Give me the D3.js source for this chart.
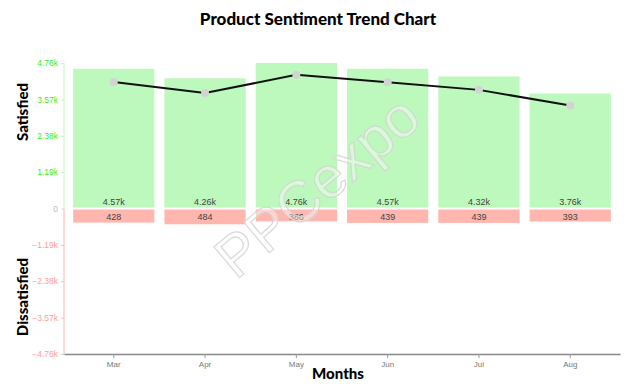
<!DOCTYPE html>
<html>
<head>
<meta charset="utf-8">
<script src="https://cdn.jsdelivr.net/npm/d3@7"></script>
<style>
  body { margin: 0; background: #fff; }
  svg { display: block; }
</style>
</head>
<body>
<svg id="chart"></svg>
<script>
// data
var months = ["Mar", "Apr", "May", "Jun", "Jul", "Aug"];
var satisfied = [4570, 4260, 4760, 4570, 4320, 3760];
var dissatisfied = [428, 484, 386, 439, 439, 393];
var netSentiment = [4142, 3776, 4374, 4131, 3881, 3367];
var yTicks = [-4760, -3570, -2380, -1190, 0, 1190, 2380, 3570, 4760];

var width = 636, height = 391;
var margin = {top: 63, right: 16, bottom: 37, left: 64};

var svg = d3.select("#chart")
    .attr("width", width)
    .attr("height", height);

var x = d3.scaleBand()
    .domain(months)
    .range([margin.left, width - margin.right])
    .paddingInner(0.11)
    .paddingOuter(0.1);

var y = d3.scaleLinear()
    .domain([-4760, 4760])
    .range([height - margin.bottom, margin.top]);

var fmt = function(v) {
    if (v === 0) return "0";
    if (Math.abs(v) >= 1000) return d3.format(".2f")(v / 1000) + "k";
    return String(v);
};

// title
svg.append("text")
    .attr("x", width / 2)
    .attr("y", 25)
    .attr("text-anchor", "middle")
    .attr("font-family", "Lato, 'Open Sans', sans-serif")
    .attr("font-weight", "900")
    .attr("font-size", 17)
    .text("Product Sentiment Trend Chart");

// bars - satisfied (up)
svg.append("g")
    .selectAll("rect")
    .data(months)
    .join("rect")
    .attr("x", function(d) { return x(d); })
    .attr("width", x.bandwidth())
    .attr("y", function(d, i) { return y(satisfied[i]); })
    .attr("height", function(d, i) { return y(0) - y(satisfied[i]) - 1; })
    .attr("fill", "#bdf8bd");

// bars - dissatisfied (down)
svg.append("g")
    .selectAll("rect")
    .data(months)
    .join("rect")
    .attr("x", function(d) { return x(d); })
    .attr("width", x.bandwidth())
    .attr("y", y(0) + 1)
    .attr("height", function(d, i) { return y(-dissatisfied[i]) - y(0); })
    .attr("fill", "#ffb6ae");

// value labels
svg.append("g")
    .selectAll("text")
    .data(months)
    .join("text")
    .attr("x", function(d) { return x(d) + x.bandwidth() / 2; })
    .attr("y", y(0) - 4)
    .attr("text-anchor", "middle")
    .attr("font-family", "'Liberation Sans', Arial, sans-serif")
    .attr("font-size", 9)
    .attr("fill", "#444")
    .text(function(d, i) { return fmt(satisfied[i]); });

svg.append("g")
    .selectAll("text")
    .data(months)
    .join("text")
    .attr("x", function(d) { return x(d) + x.bandwidth() / 2; })
    .attr("y", y(0) + 11)
    .attr("text-anchor", "middle")
    .attr("font-family", "'Liberation Sans', Arial, sans-serif")
    .attr("font-size", 9)
    .attr("fill", "#444")
    .text(function(d, i) { return fmt(dissatisfied[i]); });

// watermark
svg.append("text")
    .attr("transform", "translate(320,190) rotate(-40)")
    .attr("text-anchor", "middle")
    .attr("dominant-baseline", "middle")
    .attr("font-family", "'Liberation Sans', Arial, sans-serif")
    .attr("font-size", 58)
    .attr("fill", "#fff")
    .attr("fill-opacity", 0.4)
    .attr("stroke", "#d4d4d4")
    .attr("stroke-opacity", 0.9)
    .attr("stroke-width", 1.2)
    .text("PPCexpo");

// net sentiment line
var line = d3.line()
    .x(function(d, i) { return x(months[i]) + x.bandwidth() / 2; })
    .y(function(d) { return y(d); });

svg.append("path")
    .datum(netSentiment)
    .attr("fill", "none")
    .attr("stroke", "#111")
    .attr("stroke-width", 2)
    .attr("d", line);

svg.append("g")
    .selectAll("circle")
    .data(netSentiment)
    .join("circle")
    .attr("cx", function(d, i) { return x(months[i]) + x.bandwidth() / 2; })
    .attr("cy", function(d) { return y(d); })
    .attr("r", 4)
    .attr("fill", "#d3d3d3");

// y axis
var yAxis = svg.append("g")
    .attr("transform", "translate(" + margin.left + ",0)")
    .call(d3.axisLeft(y).tickValues(yTicks).tickFormat(fmt).tickSize(3));

yAxis.select(".domain").remove();
yAxis.selectAll("text")
    .attr("font-family", "'Liberation Sans', Arial, sans-serif")
    .attr("font-size", 8.5)
    .attr("fill", function(d) { return d > 0 ? "#2ef02e" : d < 0 ? "#ff9c9c" : "#bbb"; });
yAxis.selectAll("line")
    .attr("stroke", function(d) { return d > 0 ? "#bdf8bd" : d < 0 ? "#ffb6ae" : "#ddd"; });

svg.append("line")
    .attr("x1", margin.left).attr("x2", margin.left)
    .attr("y1", y(4760)).attr("y2", y(0))
    .attr("stroke", "#bdf8bd");
svg.append("line")
    .attr("x1", margin.left).attr("x2", margin.left)
    .attr("y1", y(0)).attr("y2", y(-4760))
    .attr("stroke", "#ffb6ae");

// x axis
var xAxis = svg.append("g")
    .attr("transform", "translate(0," + y(-4760) + ")")
    .call(d3.axisBottom(x).tickSize(4).tickSizeOuter(0));
xAxis.select(".domain").attr("stroke", "#888").attr("stroke-width", 1.5);
xAxis.selectAll("line").attr("stroke", "#999");
xAxis.selectAll("text")
    .attr("font-family", "'Liberation Sans', Arial, sans-serif")
    .attr("font-size", 8)
    .attr("fill", "#777");

// axis titles
svg.append("text")
    .attr("x", x.range()[0] + (x.range()[1] - x.range()[0]) / 2 - 4)
    .attr("y", 379)
    .attr("text-anchor", "middle")
    .attr("font-family", "Lato, 'Open Sans', sans-serif")
    .attr("font-weight", "900")
    .attr("font-size", 15)
    .text("Months");

svg.append("text")
    .attr("transform", "translate(28,112) rotate(-90)")
    .attr("text-anchor", "middle")
    .attr("font-family", "Lato, 'Open Sans', sans-serif")
    .attr("font-weight", "900")
    .attr("font-size", 15)
    .text("Satisfied");

svg.append("text")
    .attr("transform", "translate(28,297) rotate(-90)")
    .attr("text-anchor", "middle")
    .attr("font-family", "Lato, 'Open Sans', sans-serif")
    .attr("font-weight", "900")
    .attr("font-size", 15)
    .text("Dissatisfied");
</script>
</body>
</html>
